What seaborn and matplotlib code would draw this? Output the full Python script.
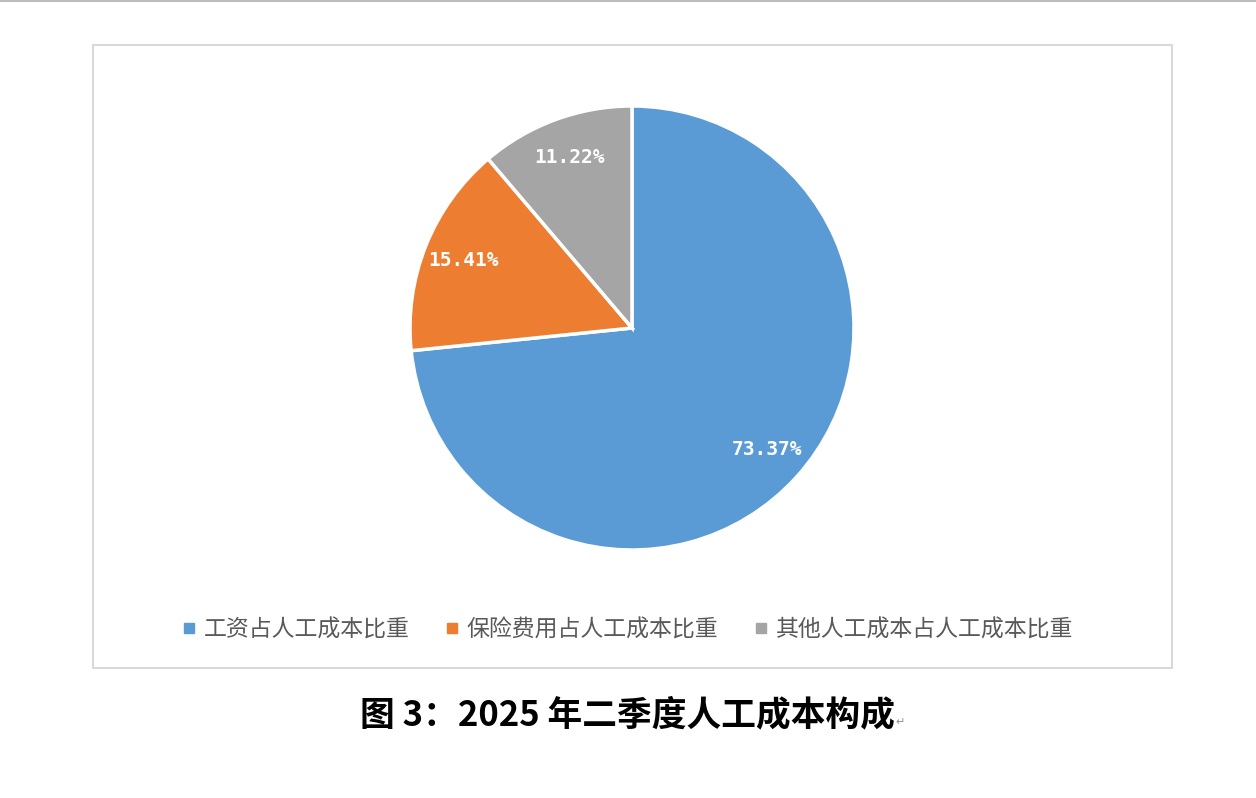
import matplotlib
matplotlib.use("Agg")
import matplotlib.pyplot as plt
import seaborn as sns
from matplotlib.patches import Rectangle
from matplotlib.lines import Line2D

# Data
categories = ["工资占人工成本比重", "保险费用占人工成本比重", "其他人工成本占人工成本比重"]
shares = [73.37, 15.41, 11.22]
colors = ["#5B9BD5", "#ED7D31", "#A5A5A5"]
caption = "图 3：2025 年二季度人工成本构成"

sns.set_theme(style="white")
plt.rcParams["font.family"] = ["Noto Sans CJK SC", "DejaVu Sans"]

W, H = 1256, 798
fig = plt.figure(figsize=(W / 100, H / 100), dpi=100)

# page line at the top and chart frame
fig.add_artist(Line2D([0, 1], [1 - 1 / H, 1 - 1 / H], color="#bdbdbd", lw=1.5,
                      transform=fig.transFigure))
fig.add_artist(Rectangle((93 / W, 1 - 668 / H), (1172 - 93) / W, (668 - 45) / H,
                         transform=fig.transFigure, fill=False,
                         edgecolor="#d9d9d9", lw=1.5))

# pie axes: center (632, 328), radius 222 px
cx, cy, r = 632, 328, 222
ax = fig.add_axes([(cx - r) / W, 1 - (cy + r) / H, 2 * r / W, 2 * r / H])
wedges, texts, autotexts = ax.pie(
    shares,
    colors=colors,
    startangle=90,
    counterclock=False,
    autopct=lambda p: f"{p:.2f}%",
    pctdistance=0.82,
    wedgeprops=dict(edgecolor="white", linewidth=2.5),
)
for t in autotexts:
    t.set_color("white")
    t.set_fontsize(14)
    t.set_fontweight("bold")
    t.set_family("DejaVu Sans Mono")
ax.set_xlim(-1, 1)
ax.set_ylim(-1, 1)
ax.set_aspect("equal")
ax.axis("off")

# legend
handles = [Line2D([], [], marker="s", linestyle="", markersize=7,
                  markerfacecolor=c, markeredgecolor=c) for c in colors]
fig.legend(handles, categories, loc="center", bbox_to_anchor=(627 / W, 1 - 630 / H),
           ncol=3, frameon=False, fontsize=16.5, labelcolor="#595959",
           handlelength=0.7, handletextpad=0.3, columnspacing=1.5)

# caption
fig.text(627 / W, 1 - 715 / H, caption, ha="center", va="center",
         fontsize=25, fontweight="bold", color="black")
fig.text(900 / W, 1 - 722 / H, "↵", ha="center", va="center",
         fontsize=8, color="#909090", family="DejaVu Sans")

fig.savefig("out.png", dpi=100, facecolor="white")
